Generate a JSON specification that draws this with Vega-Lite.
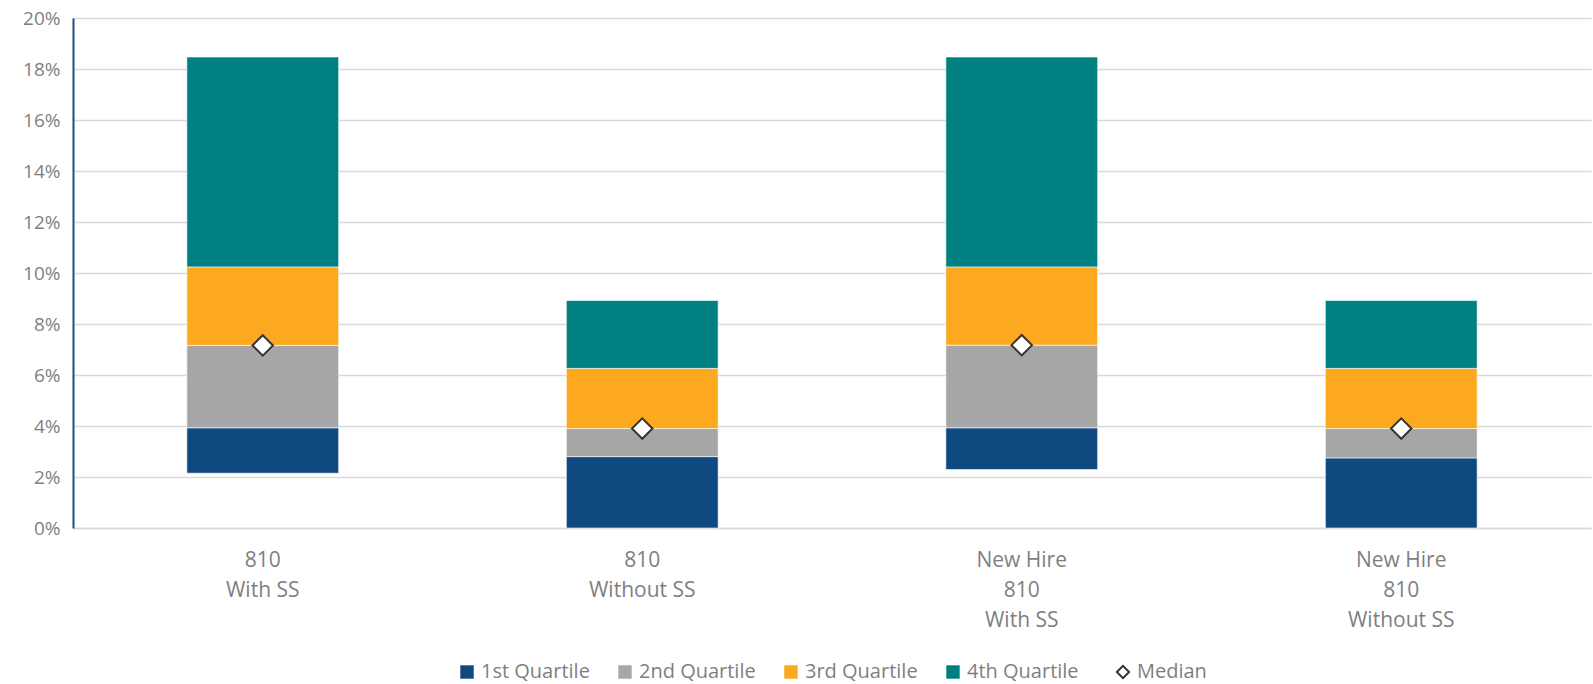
{
  "$schema": "https://vega.github.io/schema/vega-lite/v6.json",
  "width": 1518,
  "height": 510,
  "autosize": {"type": "none"},
  "padding": {"left": 73, "top": 18, "right": 2, "bottom": 156},
  "background": "white",
  "config": {"view": {"stroke": null}, "font": "Open Sans"},
  "datasets": {
    "bars": [
      {"group": "810|With SS", "quartile": "1st Quartile", "start": 0.0215, "end": 0.0393},
      {"group": "810|With SS", "quartile": "2nd Quartile", "start": 0.0393, "end": 0.0716},
      {"group": "810|With SS", "quartile": "3rd Quartile", "start": 0.0716, "end": 0.1024},
      {"group": "810|With SS", "quartile": "4th Quartile", "start": 0.1024, "end": 0.1847},
      {"group": "810|Without SS", "quartile": "1st Quartile", "start": 0.0, "end": 0.0280},
      {"group": "810|Without SS", "quartile": "2nd Quartile", "start": 0.0280, "end": 0.0390},
      {"group": "810|Without SS", "quartile": "3rd Quartile", "start": 0.0390, "end": 0.0626},
      {"group": "810|Without SS", "quartile": "4th Quartile", "start": 0.0626, "end": 0.0892},
      {"group": "New Hire|810|With SS", "quartile": "1st Quartile", "start": 0.0229, "end": 0.0393},
      {"group": "New Hire|810|With SS", "quartile": "2nd Quartile", "start": 0.0393, "end": 0.0717},
      {"group": "New Hire|810|With SS", "quartile": "3rd Quartile", "start": 0.0717, "end": 0.1024},
      {"group": "New Hire|810|With SS", "quartile": "4th Quartile", "start": 0.1024, "end": 0.1847},
      {"group": "New Hire|810|Without SS", "quartile": "1st Quartile", "start": 0.0, "end": 0.0275},
      {"group": "New Hire|810|Without SS", "quartile": "2nd Quartile", "start": 0.0275, "end": 0.0390},
      {"group": "New Hire|810|Without SS", "quartile": "3rd Quartile", "start": 0.0390, "end": 0.0626},
      {"group": "New Hire|810|Without SS", "quartile": "4th Quartile", "start": 0.0626, "end": 0.0892}
    ],
    "medians": [
      {"group": "810|With SS", "series": "Median", "median": 0.0716},
      {"group": "810|Without SS", "series": "Median", "median": 0.0390},
      {"group": "New Hire|810|With SS", "series": "Median", "median": 0.0717},
      {"group": "New Hire|810|Without SS", "series": "Median", "median": 0.0390}
    ]
  },
  "layer": [
    {
      "data": {"name": "bars"},
      "mark": {"type": "bar", "stroke": "white", "strokeWidth": 0.6},
      "encoding": {
        "x": {
          "field": "group", "type": "nominal",
          "sort": ["810|With SS", "810|Without SS", "New Hire|810|With SS", "New Hire|810|Without SS"],
          "scale": {"paddingInner": 0.6, "paddingOuter": 0.3},
          "axis": {
            "title": null, "labelAngle": 0, "labelExpr": "split(datum.label, '|')",
            "labelFontSize": 21, "labelLineHeight": 30, "labelColor": "#7F7F7F",
            "labelPadding": 21, "ticks": false, "domain": true, "domainColor": "#D9D9D9", "domainWidth": 1.5,
            "grid": false
          }
        },
        "y": {
          "field": "start", "type": "quantitative",
          "scale": {"domain": [0, 0.2], "nice": false},
          "axis": {
            "title": null, "format": ".0%",
            "values": [0, 0.02, 0.04, 0.06, 0.08, 0.1, 0.12, 0.14, 0.16, 0.18, 0.2],
            "grid": true, "gridColor": "#D9D9D9", "gridWidth": 1.5,
            "domain": true, "domainColor": "#1F4E79", "domainWidth": 2,
            "ticks": false, "labelFontSize": 19, "labelColor": "#7F7F7F", "labelPadding": 13
          }
        },
        "y2": {"field": "end"},
        "color": {
          "field": "quartile", "type": "nominal",
          "scale": {
            "domain": ["1st Quartile", "2nd Quartile", "3rd Quartile", "4th Quartile"],
            "range": ["#0F497F", "#A6A6A6", "#FDA91F", "#008080"]
          },
          "legend": {
            "title": null, "orient": "none", "legendX": 384, "legendY": 644,
            "direction": "horizontal", "symbolType": "square", "symbolSize": 180,
            "symbolStrokeWidth": 0, "labelFontSize": 20, "labelColor": "#7F7F7F",
            "labelOffset": 4, "columnPadding": 25
          }
        }
      }
    },
    {
      "data": {"name": "medians"},
      "mark": {"type": "point", "shape": "diamond", "filled": false, "fill": "white", "strokeWidth": 2, "size": 420, "opacity": 1, "fillOpacity": 1},
      "encoding": {
        "x": {"field": "group", "type": "nominal", "sort": ["810|With SS", "810|Without SS", "New Hire|810|With SS", "New Hire|810|Without SS"]},
        "y": {"field": "median", "type": "quantitative"},
        "stroke": {
          "field": "series", "type": "nominal",
          "scale": {"domain": ["Median"], "range": ["#333333"]},
          "legend": {
            "title": null, "orient": "none", "legendX": 1040, "legendY": 644,
            "symbolType": "diamond", "symbolSize": 150, "symbolFillColor": "white",
            "symbolStrokeWidth": 2, "labelFontSize": 20, "labelColor": "#7F7F7F", "labelOffset": 4
          }
        }
      }
    }
  ]
}
